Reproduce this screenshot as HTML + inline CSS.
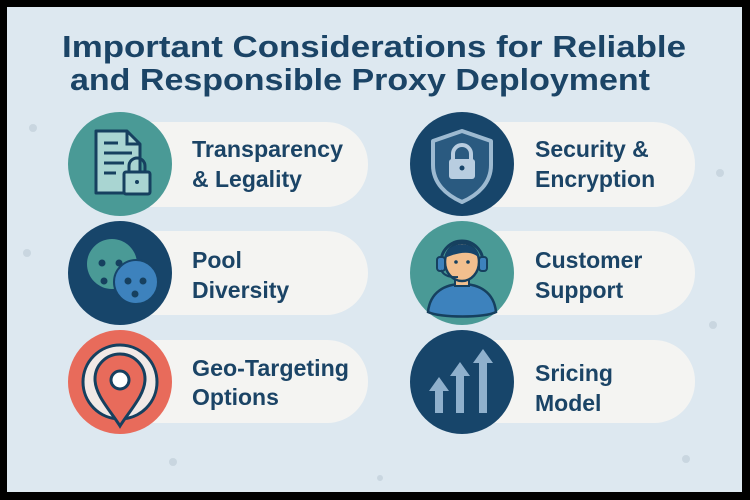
<!DOCTYPE html>
<html><head><meta charset="utf-8"><style>
html,body{margin:0;padding:0;background:#000;}
svg{display:block;}
text{font-family:"Liberation Sans",sans-serif;}
</style></head><body>
<svg width="750" height="500" viewBox="0 0 750 500" xmlns="http://www.w3.org/2000/svg">
<rect x="0" y="0" width="750" height="500" fill="#000"/>
<rect x="7" y="7" width="735" height="485" fill="#dde8f0"/>
<g fill="#c9d6e0">
<circle cx="33" cy="128" r="4"/><circle cx="27" cy="253" r="4"/><circle cx="720" cy="173" r="4"/><circle cx="713" cy="325" r="4"/><circle cx="173" cy="462" r="4"/><circle cx="686" cy="459" r="4"/><circle cx="380" cy="478" r="3"/>
</g>
<g fill="#1b4466" font-weight="bold" font-size="31">
<text x="62" y="57" textLength="624" lengthAdjust="spacingAndGlyphs">Important Considerations for Reliable</text>
<text x="70" y="90" textLength="580" lengthAdjust="spacingAndGlyphs">and Responsible Proxy Deployment</text>
</g>
<g fill="#f4f4f2">
<rect x="110" y="122" width="258" height="85" rx="42"/>
<rect x="110" y="231" width="258" height="84" rx="42"/>
<rect x="110" y="340" width="258" height="83" rx="41"/>
<rect x="455" y="122" width="240" height="85" rx="42"/>
<rect x="455" y="231" width="240" height="84" rx="42"/>
<rect x="455" y="340" width="240" height="83" rx="41"/>
</g>
<circle cx="120" cy="164" r="52" fill="#4a9a96"/>
<path d="M96 131 H127 L140 144 V193 H96 Z" fill="#a9d5d2" stroke="#16405f" stroke-width="3" stroke-linejoin="round"/>
<path d="M127 131 V144 H140" fill="none" stroke="#16405f" stroke-width="3"/>
<g stroke="#16405f" stroke-width="3"><line x1="104" y1="143" x2="118" y2="143"/><line x1="104" y1="153" x2="132" y2="153"/><line x1="104" y1="163" x2="124" y2="163"/><line x1="104" y1="173" x2="116" y2="173"/></g>
<path d="M129 172 v-6 a8 8 0 0 1 16 0 v6" fill="none" stroke="#16405f" stroke-width="3"/>
<rect x="124" y="172" width="26" height="22" rx="2" fill="#a9d5d2" stroke="#16405f" stroke-width="3"/>
<circle cx="137" cy="182" r="2" fill="#16405f"/>

<circle cx="120" cy="273" r="52" fill="#17456a"/>
<circle cx="112" cy="264" r="25" fill="#4a9a96"/>
<g fill="#16405f"><circle cx="102" cy="263" r="3.5"/><circle cx="119" cy="263" r="3.5"/><circle cx="104" cy="281" r="3.5"/></g>
<circle cx="136" cy="282" r="22" fill="#3d82bd" stroke="#17456a" stroke-width="2"/>
<g fill="#16405f"><circle cx="128" cy="281" r="3.5"/><circle cx="143" cy="281" r="3.5"/><circle cx="135" cy="294" r="3.5"/></g>

<circle cx="120" cy="382" r="52" fill="#e86b5b"/>
<circle cx="120" cy="382" r="37" fill="#f1e9e6" stroke="#16405f" stroke-width="3"/>
<path d="M120 426 C110 410 95 395 95 379 a25 25 0 0 1 50 0 C145 395 130 410 120 426 Z" fill="#e86b5b" stroke="#16405f" stroke-width="3"/>
<circle cx="120" cy="380" r="9" fill="#fff" stroke="#16405f" stroke-width="3"/>

<circle cx="462" cy="164" r="52" fill="#17456a"/>
<path d="M462 131 L491 141 V165 C491 183 478 195 462 202 C446 195 433 183 433 165 V141 Z" fill="#2a5a80" stroke="#9dbad1" stroke-width="4" stroke-linejoin="round"/>
<path d="M453 160 v-6 a9 9 0 0 1 18 0 v6" fill="none" stroke="#b8cde0" stroke-width="4"/>
<rect x="449" y="159" width="26" height="20" rx="3" fill="#b8cde0"/>
<circle cx="462" cy="168" r="2.5" fill="#17456a"/>

<circle cx="462" cy="273" r="52" fill="#4a9a96"/>
<path d="M428 312 C430 292 445 284 462 284 C479 284 494 292 496 312 C485 318 440 318 428 312 Z" fill="#3d82bd" stroke="#16405f" stroke-width="2.5"/>
<rect x="455" y="274" width="14" height="12" fill="#f2bf8e" stroke="#16405f" stroke-width="2"/>
<ellipse cx="462" cy="262" rx="17" ry="19" fill="#f2bf8e" stroke="#16405f" stroke-width="2.5"/>
<path d="M445 258 C445 240 479 240 479 258 C472 250 458 252 445 258 Z" fill="#17456a"/>
<path d="M441 262 a21 21 0 0 1 42 0" fill="none" stroke="#16405f" stroke-width="3"/>
<rect x="437" y="257" width="8" height="14" rx="3" fill="#3d82bd" stroke="#16405f" stroke-width="2"/>
<rect x="479" y="257" width="8" height="14" rx="3" fill="#3d82bd" stroke="#16405f" stroke-width="2"/>
<circle cx="456" cy="262" r="1.8" fill="#16405f"/><circle cx="468" cy="262" r="1.8" fill="#16405f"/>
<path d="M441 270 Q445 278 458 277" fill="none" stroke="#16405f" stroke-width="2"/>

<circle cx="462" cy="382" r="52" fill="#17456a"/>
<g fill="#8fb0cc">
<path d="M429 391 L439 377 L449 391 H443 V413 H435 V391 Z"/>
<path d="M450 376 L460 362 L470 376 H464 V413 H456 V376 Z"/>
<path d="M473 363 L483 349 L493 363 H487 V413 H479 V363 Z"/>
</g>

<g fill="#1b4466" font-size="23" font-weight="bold">
<text x="192" y="157" textLength="151" lengthAdjust="spacingAndGlyphs">Transparency</text><text x="192" y="187">&amp; Legality</text>
<text x="192" y="268">Pool</text><text x="192" y="298">Diversity</text>
<text x="192" y="376" textLength="157" lengthAdjust="spacingAndGlyphs">Geo-Targeting</text><text x="192" y="405">Options</text>
<text x="535" y="157">Security &amp;</text><text x="535" y="187">Encryption</text>
<text x="535" y="268">Customer</text><text x="535" y="298">Support</text>
<text x="535" y="381">Sricing</text><text x="535" y="411">Model</text>
</g>
</svg>
</body></html>
